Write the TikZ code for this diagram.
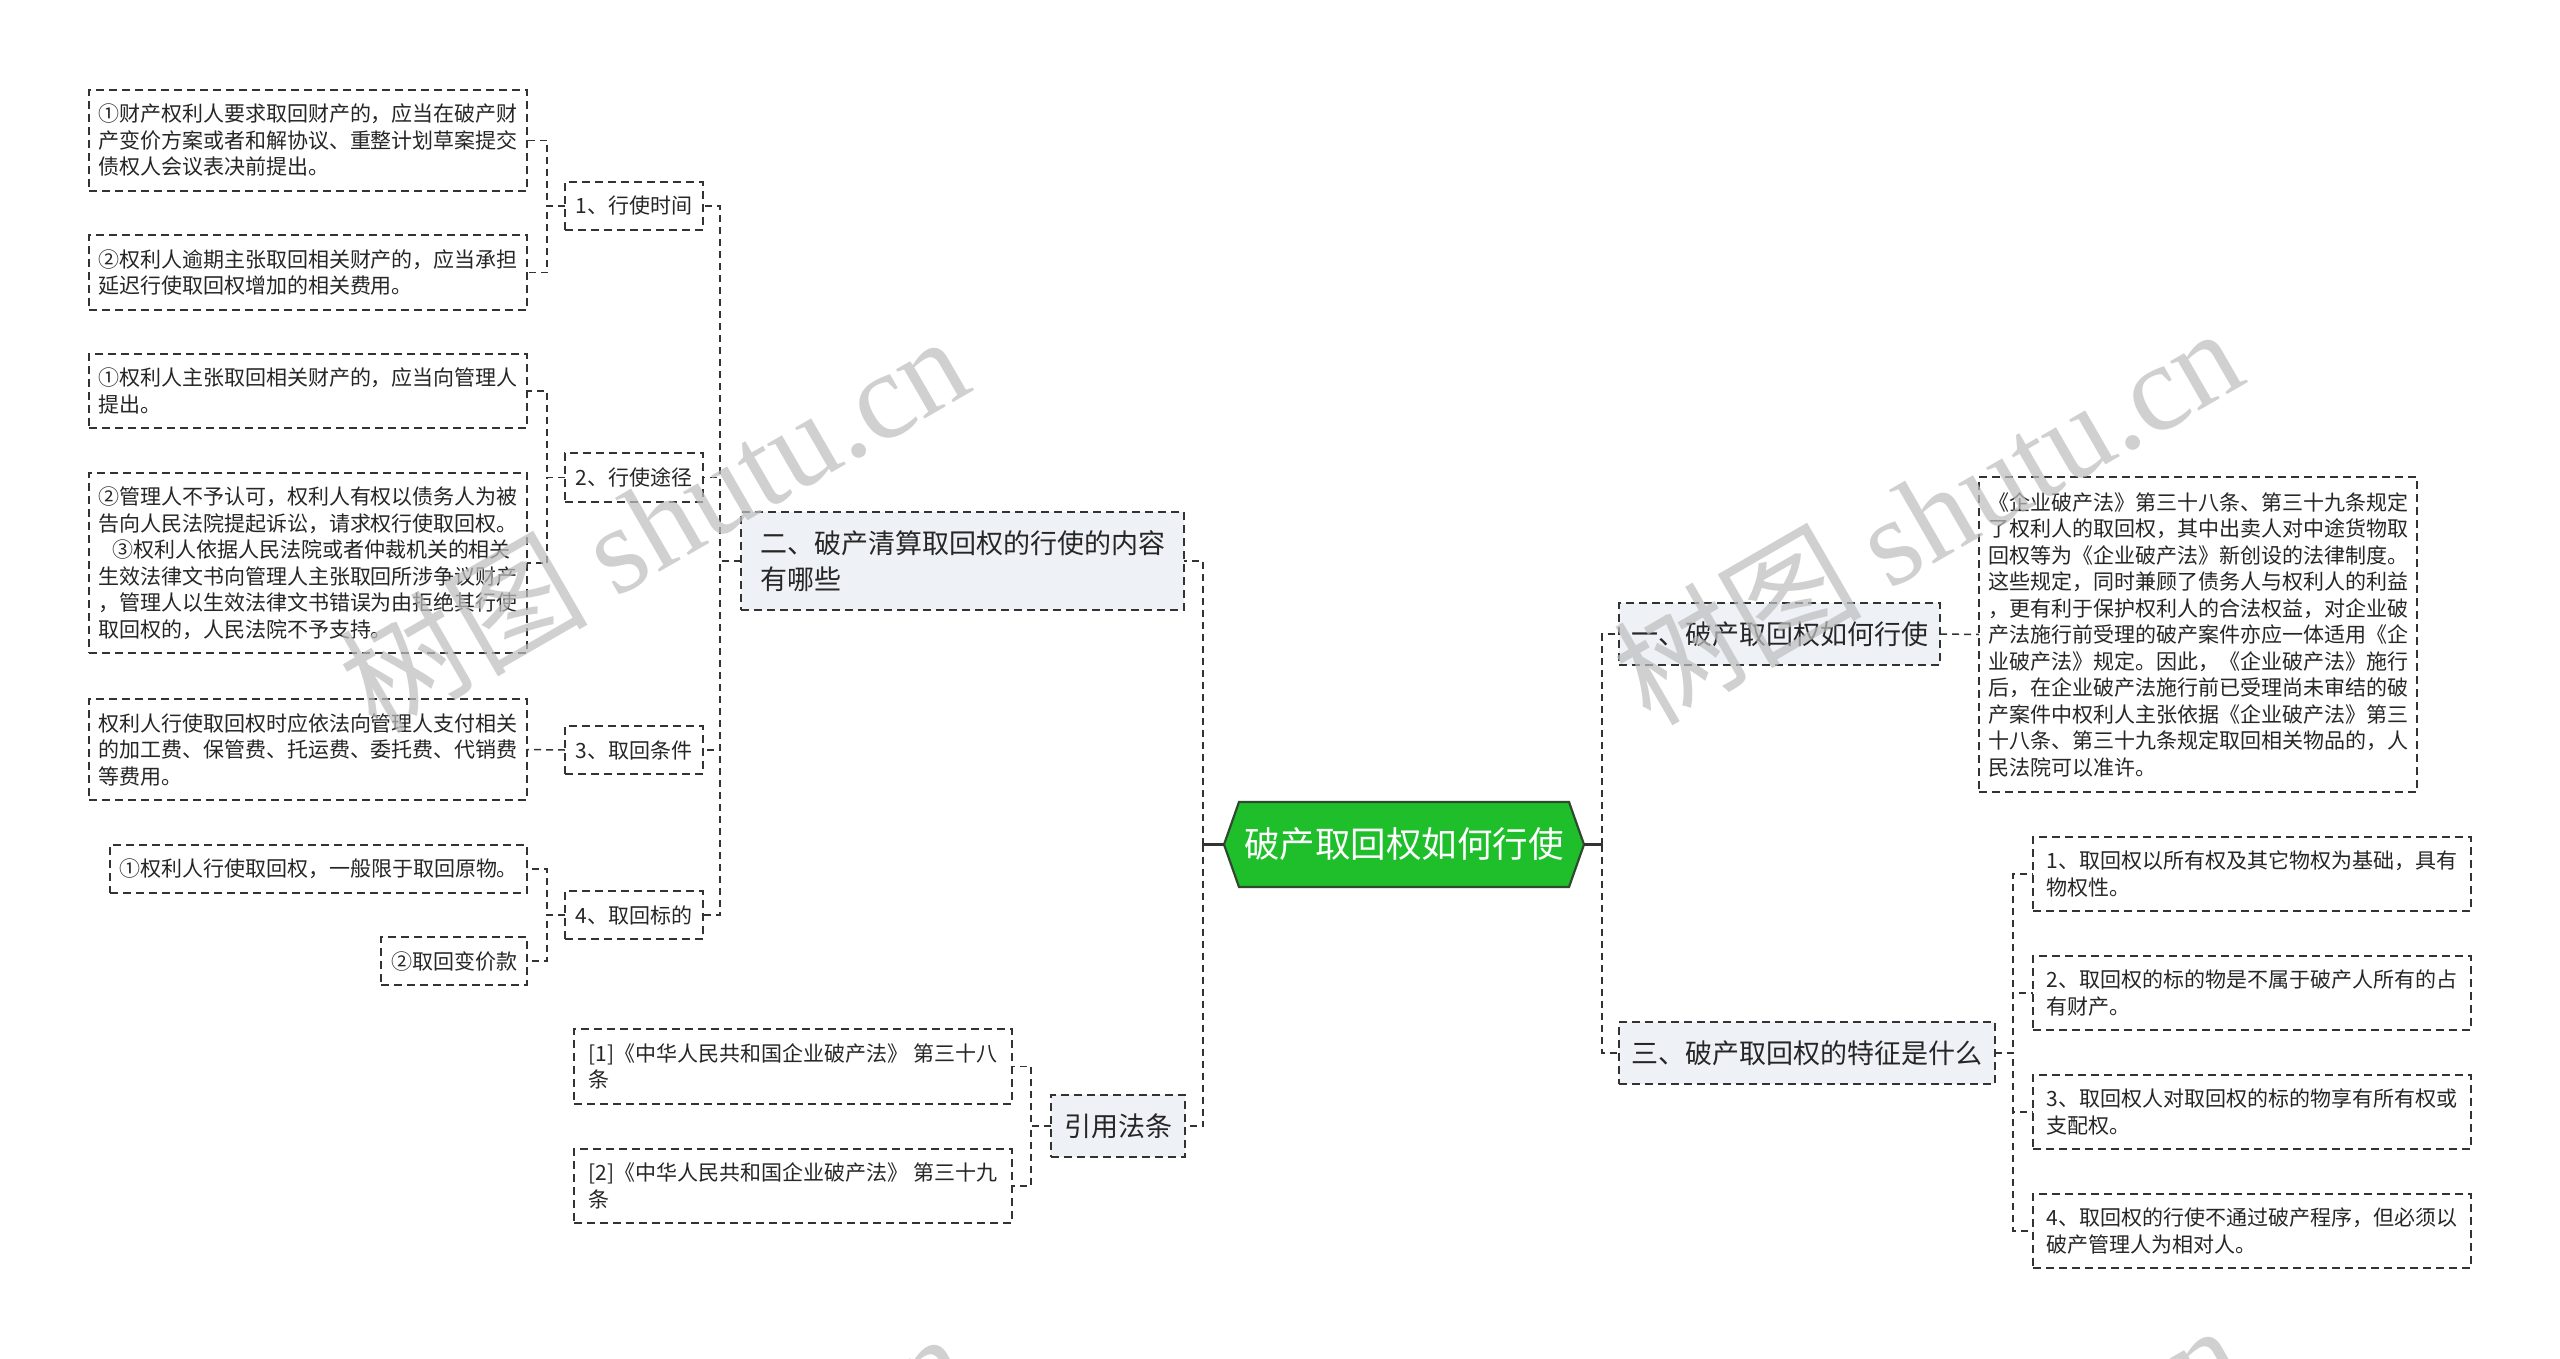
\documentclass[tikz,border=0pt]{standalone}
\usepackage{fontspec}
\newfontfamily\cjk{Noto Sans CJK SC}
\newfontfamily\wmserif{Liberation Serif}
\usetikzlibrary{calc}
\pgfdeclarelayer{background}
\pgfsetlayers{background,main}
\definecolor{lvl}{HTML}{EEF1F5}
\definecolor{hexg}{HTML}{1FBF2B}
\definecolor{hexb}{HTML}{2F4A2F}
\definecolor{edge}{HTML}{333333}
\definecolor{txt}{HTML}{262626}
\definecolor{wm}{HTML}{BEBEBE}
\begin{document}
\begin{tikzpicture}[x=1pt,y=-1pt,
  every node/.style={font=\cjk, inner sep=0pt, outer sep=0pt},
  leafbox/.style={draw=edge, line width=1.5pt, dash pattern=on 8pt off 5pt, fill=white, align=left, text=txt, font=\cjk\fontsize{21pt}{26.5pt}\selectfont},
  topbox/.style={draw=edge, line width=1.5pt, dash pattern=on 8pt off 5pt, fill=lvl, align=left, text=txt, font=\cjk\fontsize{27pt}{36pt}\selectfont},
  link/.style={draw=edge, line width=1.5pt, dash pattern=on 7pt off 5pt},
  mainlink/.style={draw=edge, line width=2.6pt, dash pattern=on 7pt off 5pt},
  mainsolid/.style={draw=edge, line width=2.6pt},
  wmark/.style={rotate=30, text=wm, opacity=0.72, font=\cjk\fontsize{124pt}{130pt}\selectfont}
]
\begin{pgfonlayer}{background}
\fill[white] (0,0) rectangle (2560,1358);
\end{pgfonlayer}
\useasboundingbox (0,0) rectangle (2560,1358);

% ---------- centre ----------
\node[font=\cjk\fontsize{35.5pt}{40pt}\selectfont, text=white, minimum width=330, minimum height=85] (hex) at (1404,844.5) {破产取回权如何行使};
\coordinate (hexL) at ($(hex.west)+(-15,0)$);
\coordinate (hexR) at ($(hex.east)+(15,0)$);
\begin{pgfonlayer}{background}
\draw[fill=hexg, draw=hexb, line width=2.2pt] (hex.north west) -- (hex.north east) -- (hexR) -- (hex.south east) -- (hex.south west) -- (hexL) -- cycle;
\end{pgfonlayer}

% ---------- level 1 ----------
\node[topbox, minimum width=443, minimum height=98] (er) at (962.5,561) {二、破产清算取回权的行使的内容\\有哪些};
\node[topbox, minimum width=134, minimum height=62] (yy) at (1118,1126) {引用法条};
\node[topbox, minimum width=321, minimum height=62] (yi) at (1779.5,634) {一、破产取回权如何行使};
\node[topbox, minimum width=376, minimum height=62] (san) at (1807,1053) {三、破产取回权的特征是什么};

% ---------- left sub nodes ----------
\node[leafbox, minimum width=138, minimum height=48] (s1) at (634,206) {1、行使时间};
\node[leafbox, minimum width=138, minimum height=49] (s2) at (634,477.5) {2、行使途径};
\node[leafbox, minimum width=138, minimum height=48] (s3) at (634,750) {3、取回条件};
\node[leafbox, minimum width=138, minimum height=48] (s4) at (634,915) {4、取回标的};

% ---------- left leaves ----------
\node[leafbox, minimum width=438, minimum height=101] (a1) at (308,140.5) {①财产权利人要求取回财产的，应当在破产财\\产变价方案或者和解协议、重整计划草案提交\\债权人会议表决前提出。};
\node[leafbox, minimum width=438, minimum height=75] (a2) at (308,272.5) {②权利人逾期主张取回相关财产的，应当承担\\延迟行使取回权增加的相关费用。};
\node[leafbox, minimum width=438, minimum height=74] (b1) at (308,391) {①权利人主张取回相关财产的，应当向管理人\\提出。};
\node[leafbox, minimum width=438, minimum height=180] (b2) at (308,563) {②管理人不予认可，权利人有权以债务人为被\\告向人民法院提起诉讼，请求权行使取回权。\\\hspace*{14pt}③权利人依据人民法院或者仲裁机关的相关\\生效法律文书向管理人主张取回所涉争议财产\\，管理人以生效法律文书错误为由拒绝其行使\\取回权的，人民法院不予支持。};
\node[leafbox, minimum width=438, minimum height=101] (c1) at (308,749.5) {权利人行使取回权时应依法向管理人支付相关\\的加工费、保管费、托运费、委托费、代销费\\等费用。};
\node[leafbox, minimum width=417, minimum height=48] (d1) at (318.5,869) {①权利人行使取回权，一般限于取回原物。};
\node[leafbox, minimum width=146, minimum height=48] (d2) at (454,961) {②取回变价款};

% ---------- citations ----------
\node[leafbox, minimum width=438, minimum height=75] (c3) at (793,1066.5) {[1]《中华人民共和国企业破产法》 第三十八\\条};
\node[leafbox, minimum width=438, minimum height=74] (c4) at (793,1186) {[2]《中华人民共和国企业破产法》 第三十九\\条};

% ---------- right ----------
\node[leafbox, minimum width=438, minimum height=315] (big) at (2198,634.5) {《企业破产法》第三十八条、第三十九条规定\\了权利人的取回权，其中出卖人对中途货物取\\回权等为《企业破产法》新创设的法律制度。\\这些规定，同时兼顾了债务人与权利人的利益\\，更有利于保护权利人的合法权益，对企业破\\产法施行前受理的破产案件亦应一体适用《企\\业破产法》规定。因此，《企业破产法》施行\\后，在企业破产法施行前已受理尚未审结的破\\产案件中权利人主张依据《企业破产法》第三\\十八条、第三十九条规定取回相关物品的，人\\民法院可以准许。};
\node[leafbox, minimum width=438, minimum height=74] (r1) at (2252,874) {1、取回权以所有权及其它物权为基础，具有\\物权性。};
\node[leafbox, minimum width=438, minimum height=74] (r2) at (2252,993) {2、取回权的标的物是不属于破产人所有的占\\有财产。};
\node[leafbox, minimum width=438, minimum height=74] (r3) at (2252,1112) {3、取回权人对取回权的标的物享有所有权或\\支配权。};
\node[leafbox, minimum width=438, minimum height=74] (r4) at (2252,1231) {4、取回权的行使不通过破产程序，但必须以\\破产管理人为相对人。};

% ---------- connectors ----------
\draw[mainsolid] (hexL) -- ++(-21,0) coordinate (busL);
\draw[mainlink] (busL) |- (er.east);
\draw[mainlink] (busL) |- (yy.east);
\draw[mainsolid] (hexR) -- ++(18,0) coordinate (busR);
\draw[mainlink] (busR) |- (yi.west);
\draw[mainlink] (busR) |- (san.west);

\foreach \c in {s1,s2,s3,s4} \draw[link] (er.west) -- ++(-21,0) |- (\c.east);
\foreach \c in {a1,a2} \draw[link] (s1.west) -- ++(-18,0) |- (\c.east);
\foreach \c in {b1,b2} \draw[link] (s2.west) -- ++(-18,0) |- (\c.east);
\draw[link] (s3.west) -- (c1.east);
\foreach \c in {d1,d2} \draw[link] (s4.west) -- ++(-18,0) |- (\c.east);
\foreach \c in {c3,c4} \draw[link] (yy.west) -- ++(-20,0) |- (\c.east);
\draw[link] (yi.east) -- (big.west);
\foreach \c in {r1,r2,r3,r4} \draw[link] (san.east) -- ++(18,0) |- (\c.west);

% ---------- watermarks ----------
\node[wmark] (w1) at (653,522) {树图 {\wmserif shutu.cn}};
\node[wmark] (w2) at (1927,514) {树图 {\wmserif shutu.cn}};
\node[wmark] (w3) at (653,1519) {树图 {\wmserif shutu.cn}};
\node[wmark] (w4) at (1927,1511) {树图 {\wmserif shutu.cn}};
\end{tikzpicture}
\end{document}
